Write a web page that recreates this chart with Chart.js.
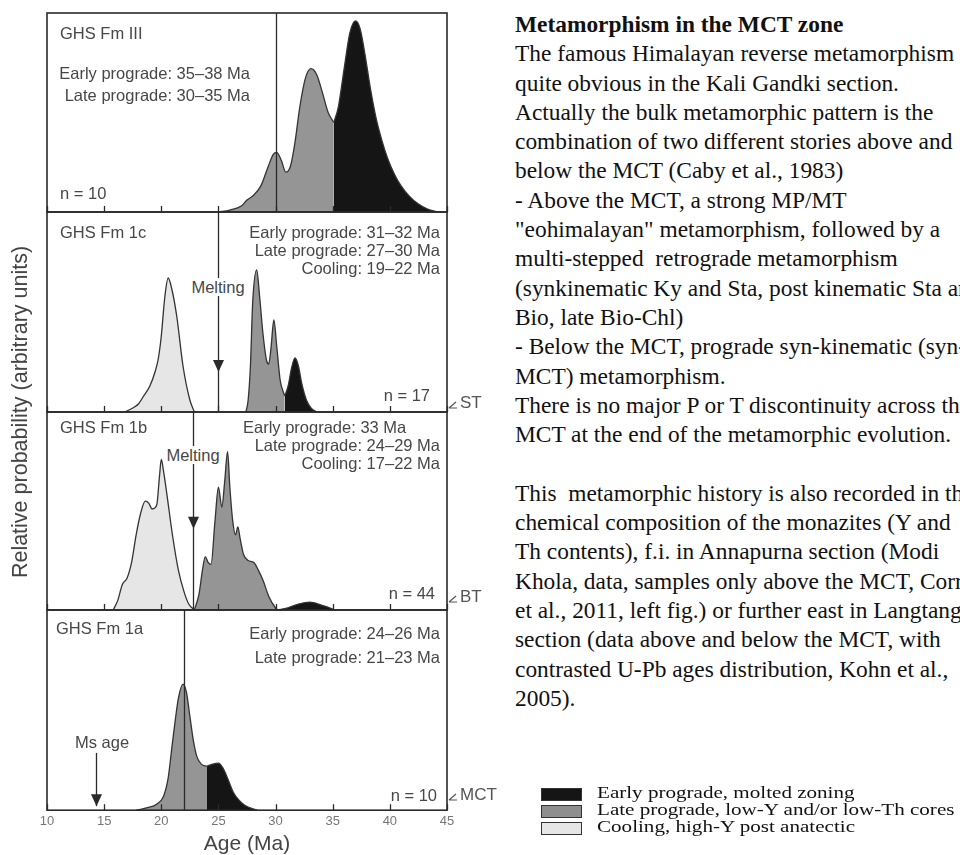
<!DOCTYPE html>
<html lang="en">
<head>
<meta charset="UTF-8">
<title>Metamorphism in the MCT zone</title>
<style>
  body { margin: 0; background: #fff; }
  .page {
    position: relative;
    width: 960px;
    height: 855px;
    overflow: hidden;
    font-family: 'Liberation Sans', Arial, sans-serif;
  }
  canvas { position: absolute; left: 27px; }
  .lbl {
    position: absolute;
    font-size: 16.5px;
    line-height: 18px;
    color: #474747;
    white-space: nowrap;
  }
  .mid { background: #fff; padding: 0 1px; transform: translateX(-50%); }
  .ytitle {
    position: absolute;
    left: -180px;
    top: 399px;
    width: 400px;
    text-align: center;
    font-size: 21.5px;
    line-height: 26px;
    color: #444;
    transform: rotate(-90deg);
  }
  .zone { position: absolute; left: 460px; font-size: 17px; line-height: 20px; color: #555; }
  .zone svg { position: absolute; left: -12px; top: 3px; }
  .story {
    position: absolute;
    left: 515px;
    top: 10px;
    font-family: 'Liberation Serif', 'Times New Roman', serif;
    font-size: 23.4px;
    line-height: 29.3px;
    color: #111;
    white-space: nowrap;
  }
  .story b { font-weight: bold; }
  .legend { position: absolute; left: 541px; top: 785px; }
  .legend .row { position: relative; height: 16.8px; }
  .legend .box { position: absolute; left: 0; top: 3px; width: 39px; height: 11px; border: 1px solid #333; }
  .legend .txt {
    position: absolute;
    left: 56px;
    top: -1px;
    font-family: 'Liberation Serif', 'Times New Roman', serif;
    font-size: 17px;
    line-height: 18px;
    color: #111;
    white-space: nowrap;
    transform: scaleX(1.24);
    transform-origin: left center;
  }
</style>
<script src="https://cdn.jsdelivr.net/npm/chart.js"></script>
</head>
<body>
<div class="page">
  <canvas id="p1" width="440" height="205" style="top:10px"></canvas>
  <canvas id="p2" width="440" height="206" style="top:209px"></canvas>
  <canvas id="p3" width="440" height="204" style="top:409px"></canvas>
  <canvas id="p4" width="440" height="250" style="top:607px"></canvas>

  <div class="ytitle">Relative probability (arbitrary units)</div>

  <!-- GHS Fm III -->
  <div class="lbl" style="left:60px;top:24px">GHS Fm III</div>
  <div class="lbl" style="right:710px;top:64px">Early prograde: 35–38 Ma</div>
  <div class="lbl" style="right:710px;top:86px">Late prograde: 30–35 Ma</div>
  <div class="lbl" style="left:60px;top:184px">n = 10</div>

  <!-- GHS Fm 1c -->
  <div class="lbl" style="left:60px;top:223px">GHS Fm 1c</div>
  <div class="lbl" style="right:520px;top:223px">Early prograde: 31–32 Ma</div>
  <div class="lbl" style="right:520px;top:241px">Late prograde: 27–30 Ma</div>
  <div class="lbl" style="right:520px;top:259px">Cooling: 19–22 Ma</div>
  <div class="lbl mid" style="left:218px;top:278px">Melting</div>
  <div class="lbl" style="right:530px;top:386px">n = 17</div>

  <!-- GHS Fm 1b -->
  <div class="lbl" style="left:60px;top:418px">GHS Fm 1b</div>
  <div class="lbl" style="left:243px;top:418px">Early prograde: 33 Ma</div>
  <div class="lbl" style="right:520px;top:436px">Late prograde: 24–29 Ma</div>
  <div class="lbl" style="right:520px;top:454px">Cooling: 17–22 Ma</div>
  <div class="lbl mid" style="left:193px;top:446px">Melting</div>
  <div class="lbl" style="right:525px;top:584px">n = 44</div>

  <!-- GHS Fm 1a -->
  <div class="lbl" style="left:56px;top:619px">GHS Fm 1a</div>
  <div class="lbl" style="right:520px;top:624px">Early prograde: 24–26 Ma</div>
  <div class="lbl" style="right:520px;top:648px">Late prograde: 21–23 Ma</div>
  <div class="lbl mid" style="left:102px;top:733px;background:none">Ms age</div>
  <div class="lbl" style="right:523px;top:786px">n = 10</div>

  <!-- thrust labels -->
  <div class="zone" style="top:393px"><svg width="12" height="14"><path d="M1 12 L9 12 M1 12 L8 6" stroke="#555" stroke-width="1.2" fill="none"/></svg>ST</div>
  <div class="zone" style="top:587px"><svg width="12" height="14"><path d="M1 12 L9 12 M1 12 L8 6" stroke="#555" stroke-width="1.2" fill="none"/></svg>BT</div>
  <div class="zone" style="top:785px"><svg width="12" height="14"><path d="M1 12 L9 12 M1 12 L8 6" stroke="#555" stroke-width="1.2" fill="none"/></svg>MCT</div>

  <div class="story"><b>Metamorphism in the MCT zone</b><br>The famous Himalayan reverse metamorphism<br>quite obvious in the Kali Gandki section.<br>Actually the bulk metamorphic pattern is the<br>combination of two different stories above and<br>below the MCT (Caby et al., 1983)<br>- Above the MCT, a strong MP/MT<br>"eohimalayan" metamorphism, followed by a<br>multi-stepped&nbsp; retrograde metamorphism<br>(synkinematic Ky and Sta, post kinematic Sta and<br>Bio, late Bio-Chl)<br>- Below the MCT, prograde syn-kinematic (syn-<br>MCT) metamorphism.<br>There is no major P or T discontinuity across the<br>MCT at the end of the metamorphic evolution.<br><br>This&nbsp; metamorphic history is also recorded in the<br>chemical composition of the monazites (Y and<br>Th contents), f.i. in Annapurna section (Modi<br>Khola, data, samples only above the MCT, Corrie<br>et al., 2011, left fig.) or further east in Langtang<br>section (data above and below the MCT, with<br>contrasted U-Pb ages distribution, Kohn et al.,<br>2005).</div>

  <div class="legend">
    <div class="row"><div class="box" style="background:#151515"></div><div class="txt">Early prograde, molted zoning</div></div>
    <div class="row"><div class="box" style="background:#8e8e8e"></div><div class="txt">Late prograde, low-Y and/or low-Th cores</div></div>
    <div class="row"><div class="box" style="background:#e6e6e6"></div><div class="txt">Cooling, high-Y post anatectic</div></div>
  </div>
</div>

<script>
  // x axis ticks (Ma)
  const ageTicks = [10, 15, 20, 25, 30, 35, 40, 45];

  // [age (Ma), relative probability]
  // GHS Fm III
  const fm3Late = [[25,0],[26,0.01],[27,0.03],[27.5,0.06],[28,0.08],[28.7,0.13],[29.3,0.22],[29.8,0.29],[30.1,0.30],[30.5,0.26],[30.9,0.20],[31.3,0.23],[31.7,0.35],[32.1,0.52],[32.6,0.67],[33.1,0.72],[33.6,0.69],[34.1,0.60],[34.6,0.50],[35.1,0.45]];
  const fm3Early = [[35.1,0.45],[35.5,0.53],[36,0.72],[36.5,0.90],[37,0.96],[37.4,0.92],[37.8,0.80],[38.3,0.62],[38.8,0.47],[39.3,0.36],[39.8,0.27],[40.4,0.19],[41,0.13],[41.7,0.08],[42.5,0.04],[43.3,0.015],[44.2,0]];
  // GHS Fm 1c
  const fm1cCooling = [[16.8,0],[17.5,0.02],[18.0,0.04],[18.4,0.075],[19.0,0.13],[19.45,0.2],[19.75,0.27],[20.0,0.38],[20.3,0.57],[20.6,0.67],[20.9,0.62],[21.35,0.48],[21.9,0.23],[22.5,0.06],[22.9,0]];
  const fm1cLate = [[27.4,0],[27.6,0.06],[27.8,0.23],[28.0,0.55],[28.35,0.71],[28.6,0.58],[28.9,0.39],[29.2,0.26],[29.4,0.24],[29.6,0.32],[29.85,0.46],[30.1,0.33],[30.4,0.16],[30.8,0.08]];
  const fm1cEarly = [[30.8,0.08],[31.1,0.13],[31.4,0.22],[31.7,0.27],[32.0,0.23],[32.3,0.14],[32.7,0.06],[33.1,0.02],[33.6,0]];
  // GHS Fm 1b
  const fm1bCooling = [[15.8,0],[16.2,0.05],[16.6,0.13],[17.0,0.16],[17.4,0.24],[17.8,0.38],[18.2,0.49],[18.6,0.55],[18.9,0.54],[19.2,0.51],[19.6,0.53],[19.85,0.68],[20.0,0.76],[20.2,0.70],[20.5,0.58],[21.0,0.37],[21.5,0.2],[22.0,0.09],[22.4,0.03],[22.9,0]];
  const fm1bLate = [[22.9,0],[23.3,0.08],[23.6,0.2],[23.85,0.27],[24.1,0.24],[24.35,0.23],[24.7,0.45],[25.0,0.62],[25.3,0.52],[25.55,0.65],[25.8,0.80],[26.0,0.62],[26.25,0.45],[26.5,0.38],[26.7,0.42],[26.9,0.36],[27.2,0.28],[27.6,0.25],[28.1,0.24],[28.5,0.2],[28.9,0.15],[29.4,0.07],[30.0,0.01],[30.2,0]];
  const fm1bEarly = [[30.2,0],[31,0.01],[32,0.03],[33,0.04],[34,0.025],[35,0.005],[35.2,0]];
  // GHS Fm 1a
  const fm1aLate = [[17.8,0],[18.6,0.01],[19.6,0.03],[20.2,0.07],[20.6,0.16],[20.9,0.30],[21.2,0.44],[21.5,0.56],[21.9,0.63],[22.2,0.59],[22.5,0.47],[22.8,0.35],[23.1,0.27],[23.5,0.23],[24.0,0.22]];
  const fm1aEarly = [[24.0,0.22],[24.5,0.23],[25.0,0.235],[25.4,0.21],[25.8,0.16],[26.3,0.09],[26.8,0.05],[27.3,0.025],[28.4,0]];

  const BLACK = '#151515';
  const GRAY = '#959595';
  const LIGHT = '#e6e6e6';

  // draws panel frame, inward ticks, marker lines and arrow heads
  const framePlugin = {
    id: 'frame',
    afterDatasetsDraw(chart, args, opts) {
      const { ctx, chartArea: a, scales: { x, y } } = chart;
      ctx.save();
      ctx.strokeStyle = '#2a2a2a';
      ctx.fillStyle = '#2a2a2a';
      (opts.lines || []).forEach(m => {
        const px = Math.round(x.getPixelForValue(m.age)) + 0.5;
        ctx.lineWidth = 1.3;
        ctx.beginPath();
        ctx.moveTo(px, y.getPixelForValue(m.from));
        ctx.lineTo(px, y.getPixelForValue(m.to));
        ctx.stroke();
        if (m.head != null) {
          const hy = y.getPixelForValue(m.head);
          ctx.beginPath();
          ctx.moveTo(px, hy);
          ctx.lineTo(px - 5.5, hy - 12);
          ctx.lineTo(px + 5.5, hy - 12);
          ctx.closePath();
          ctx.fill();
        }
      });
      ctx.lineWidth = 1.3;
      ageTicks.forEach(v => {
        const px = Math.round(x.getPixelForValue(v)) + 0.5;
        ctx.beginPath();
        ctx.moveTo(px, a.bottom);
        ctx.lineTo(px, a.bottom - 6);
        ctx.stroke();
      });
      ctx.lineWidth = 1.6;
      ctx.strokeRect(a.left, a.top, a.width, a.height);
      ctx.restore();
    }
  };

  function makePanel(id, segments, lines, showAxis) {
    new Chart(document.getElementById(id), {
      type: 'line',
      data: {
        datasets: segments.map(s => ({
          data: s.pts.map(p => ({ x: p[0], y: p[1] })),
          backgroundColor: s.color,
          borderColor: '#333',
          borderWidth: 1.3,
          fill: 'origin',
          pointRadius: 0,
          cubicInterpolationMode: 'monotone'
        }))
      },
      options: {
        responsive: false,
        animation: false,
        devicePixelRatio: 1,
        layout: { padding: { left: 20, right: 20, top: 3, bottom: showAxis ? 0 : 3 } },
        plugins: {
          legend: { display: false },
          tooltip: { enabled: false },
          frame: { lines }
        },
        scales: {
          x: {
            type: 'linear',
            min: 10,
            max: 45,
            display: showAxis,
            afterBuildTicks: scale => { scale.ticks = ageTicks.map(v => ({ value: v })); },
            grid: { display: false, drawTicks: false },
            border: { display: false },
            ticks: {
              padding: 3,
              maxRotation: 0,
              color: '#777',
              font: { family: "'Liberation Sans', Arial, sans-serif", size: 13 }
            },
            title: {
              display: true,
              text: 'Age (Ma)',
              color: '#444',
              padding: { top: 0, bottom: 0 },
              font: { family: "'Liberation Sans', Arial, sans-serif", size: 21 }
            }
          },
          y: { min: 0, max: 1, display: false }
        }
      },
      plugins: [framePlugin]
    });
  }

  makePanel('p1',
    [{ pts: fm3Late, color: GRAY }, { pts: fm3Early, color: BLACK }],
    [{ age: 30, from: 1, to: 0 }], false);

  makePanel('p2',
    [{ pts: fm1cCooling, color: LIGHT }, { pts: fm1cLate, color: GRAY }, { pts: fm1cEarly, color: BLACK }],
    [{ age: 25, from: 1, to: 0, head: 0.2 }], false);

  makePanel('p3',
    [{ pts: fm1bCooling, color: LIGHT }, { pts: fm1bLate, color: GRAY }, { pts: fm1bEarly, color: BLACK }],
    [{ age: 22.8, from: 1, to: 0, head: 0.41 }], false);

  makePanel('p4',
    [{ pts: fm1aLate, color: GRAY }, { pts: fm1aEarly, color: BLACK }],
    [{ age: 22, from: 1, to: 0 }, { age: 14.3, from: 0.286, to: 0.02, head: 0.02 }], true);
</script>
</body>
</html>
